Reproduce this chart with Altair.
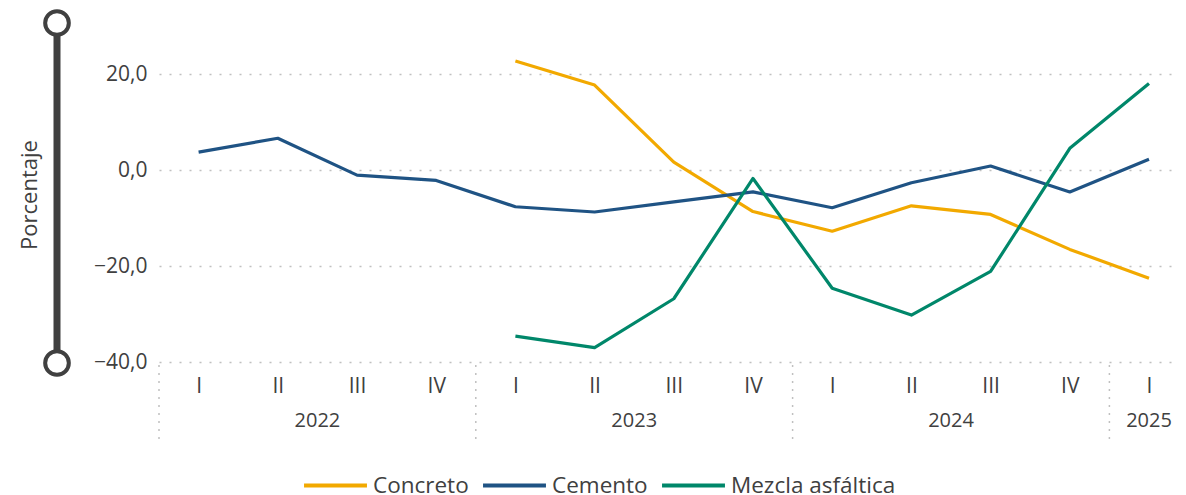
import altair as alt
import pandas as pd

quarters = ["I", "II", "III", "IV", "I", "II", "III", "IV", "I", "II", "III", "IV", "I"]
years = ["2022"] * 4 + ["2023"] * 4 + ["2024"] * 4 + ["2025"]
concreto = [None, None, None, None, 22.8, 17.8, 1.7, -8.6, -12.7, -7.4, -9.2, -16.5, -22.5]
cemento = [3.8, 6.7, -1.0, -2.1, -7.6, -8.7, -6.6, -4.5, -7.8, -2.6, 0.9, -4.5, 2.3]
mezcla = [None, None, None, None, -34.6, -37.0, -26.8, -1.7, -24.6, -30.2, -21.1, 4.6, 18.1]
series_names = ["Concreto", "Cemento", "Mezcla asfáltica"]
series_colors = ["#F2A900", "#1F5384", "#00876A"]
y_ticks = [-40, -20, 0, 20]

FONT = "Segoe UI, Open Sans, sans-serif"
W, H = 1019, 345
X_MAX = -0.5 + W / 79.2

rows = []
for name, vals in zip(series_names, [concreto, cemento, mezcla]):
    for i, v in enumerate(vals):
        if v is not None:
            rows.append({"idx": i, "serie": name, "valor": v})
df = pd.DataFrame(rows)

qdf = pd.DataFrame({"idx": range(len(quarters)), "q": quarters, "year": years})
ydf = qdf.groupby("year", as_index=False).agg(center=("idx", "mean"), start=("idx", "min"))
ydf["sep"] = ydf["start"] - 0.5

xscale = alt.Scale(domain=[-0.5, X_MAX], nice=False, zero=False)
yscale = alt.Scale(domain=[-40, 32], nice=False, zero=False)

q_expr = "[" + ",".join("'%s'" % q for q in quarters) + "][datum.value]"

lines = alt.Chart(df).mark_line(strokeWidth=3.2, strokeJoin="round").encode(
    x=alt.X("idx:Q", scale=xscale,
            axis=alt.Axis(values=list(range(len(quarters))), labelExpr=q_expr, title=None,
                          domain=False, ticks=False, grid=False, labelPadding=13,
                          labelFontSize=21, labelColor="#404040", labelFont=FONT)),
    y=alt.Y("valor:Q", scale=yscale,
            axis=alt.Axis(values=y_ticks, title=None, domain=False, ticks=False,
                          labelExpr="replace(format(datum.value, '.1f'), '.', ',')",
                          labelPadding=12, labelFontSize=21, labelColor="#404040", labelFont=FONT,
                          grid=True, gridDash=[2, 8], gridColor="#c0c0c0", gridWidth=1.5)),
    color=alt.Color("serie:N", scale=alt.Scale(domain=series_names, range=series_colors),
                    legend=alt.Legend(orient="none", legendX=143, legendY=435, direction="horizontal",
                                      title=None, symbolType="stroke", symbolSize=3960,
                                      symbolStrokeWidth=4, labelFontSize=22.5, labelFont=FONT,
                                      labelColor="#404040", labelOffset=4, columnPadding=6,
                                      labelLimit=400)),
    order="idx:Q",
)

year_text = alt.Chart(ydf).mark_text(fontSize=20, font=FONT, color="#404040", baseline="middle").encode(
    x=alt.X("center:Q", scale=xscale), y=alt.value(H + 59), text="year:N")

seps = alt.Chart(ydf).mark_rule(strokeDash=[2, 6], color="#c0c0c0", strokeWidth=1.5).encode(
    x=alt.X("sep:Q", scale=xscale), y=alt.value(H + 3), y2=alt.value(H + 78))

deco_df = pd.DataFrame({"k": [0]})
bar = alt.Chart(deco_df).mark_rule(color="#404040", strokeWidth=7).encode(
    x=alt.value(-102), y=alt.value(6), y2=alt.value(346))
top_c = alt.Chart(deco_df).mark_point(shape="circle", size=560, filled=False, fill="white",
                                      fillOpacity=1, stroke="#404040", strokeWidth=4, opacity=1).encode(
    x=alt.value(-102), y=alt.value(6))
bot_c = alt.Chart(deco_df).mark_point(shape="circle", size=560, filled=False, fill="white",
                                      fillOpacity=1, stroke="#404040", strokeWidth=4, opacity=1).encode(
    x=alt.value(-102), y=alt.value(346))
ytitle = alt.Chart(deco_df).mark_text(text="Porcentaje", angle=270, fontSize=22, font=FONT,
                                      color="#404040", baseline="middle", align="center").encode(
    x=alt.value(-129), y=alt.value(178))

chart = alt.layer(seps, lines, year_text, bar, top_c, bot_c, ytitle).properties(
    width=W, height=H,
    autosize=alt.AutoSizeParams(type="none"),
    padding={"left": 151, "top": 9, "right": 0, "bottom": 133},
).configure_view(stroke=None)

chart.save("out.html", embed_options={"renderer": "svg", "actions": False})
